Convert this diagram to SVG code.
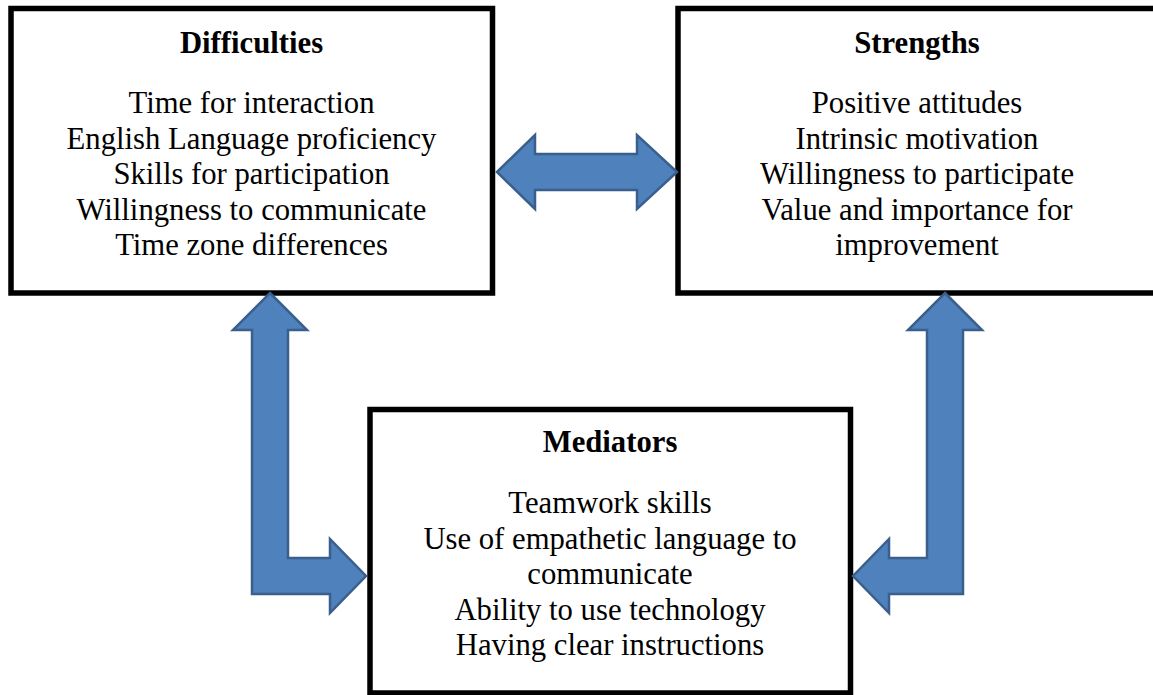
<svg xmlns="http://www.w3.org/2000/svg" width="1153" height="695" viewBox="0 0 1153 695">
  <style>
    .box { fill: #ffffff; stroke: #000000; stroke-width: 5.5; }
    .arrow { fill: #4F81BD; stroke: #3A5F8C; stroke-width: 2.5; stroke-linejoin: miter; }
    .title { font-family: "Liberation Serif", "Times New Roman", serif; font-size: 30.7px; font-weight: bold; fill: #000; text-anchor: middle; }
    .body { font-family: "Liberation Serif", "Times New Roman", serif; font-size: 30.7px; fill: #000; text-anchor: middle; }
  </style>
  <rect x="0" y="0" width="1153" height="695" fill="#ffffff"/>
  <g id="difficulties">
    <rect class="box" x="11" y="8.5" width="481.5" height="284.5"/>
    <text class="title" x="251.5" y="53">Difficulties</text>
    <text class="body" x="251.5" y="113">Time for interaction</text>
    <text class="body" x="251.5" y="149">English Language proficiency</text>
    <text class="body" x="251.5" y="184">Skills for participation</text>
    <text class="body" x="251.5" y="220">Willingness to communicate</text>
    <text class="body" x="251.5" y="255">Time zone differences</text>
  </g>
  <g id="strengths">
    <rect class="box" x="678" y="8.5" width="478" height="284.5"/>
    <text class="title" x="917" y="53">Strengths</text>
    <text class="body" x="917" y="113">Positive attitudes</text>
    <text class="body" x="917" y="149">Intrinsic motivation</text>
    <text class="body" x="917" y="184">Willingness to participate</text>
    <text class="body" x="917" y="220">Value and importance for</text>
    <text class="body" x="917" y="255">improvement</text>
  </g>
  <g id="mediators">
    <rect class="box" x="370" y="409.5" width="480.5" height="283.5"/>
    <text class="title" x="610" y="452">Mediators</text>
    <text class="body" x="610" y="513">Teamwork skills</text>
    <text class="body" x="610" y="549">Use of empathetic language to</text>
    <text class="body" x="610" y="584">communicate</text>
    <text class="body" x="610" y="620">Ability to use technology</text>
    <text class="body" x="610" y="655">Having clear instructions</text>
  </g>
  <g id="connectors">
    <path class="arrow" d="M497,172 L535,135 L535,154 L637,154 L637,135 L677,172 L637,209 L637,190 L535,190 L535,209 Z"/>
    <path class="arrow" d="M270,293 L307,330 L288,330 L288,558 L330,558 L330,539 L366,576 L330,613 L330,594 L252,594 L252,330 L233,330 Z"/>
    <path class="arrow" d="M945,293 L982,330 L963,330 L963,594 L889,594 L889,613 L853,576 L889,539 L889,558 L927,558 L927,330 L908,330 Z"/>
  </g>
</svg>
